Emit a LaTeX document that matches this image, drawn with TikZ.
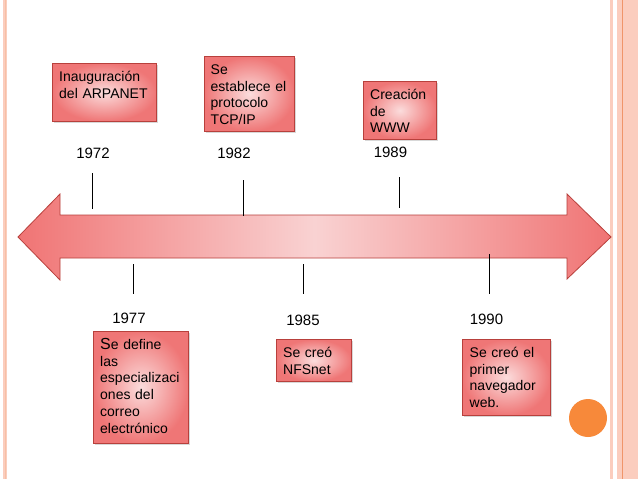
\documentclass[tikz,border=0pt]{standalone}
\usepackage{fontspec}
\setmainfont{Liberation Sans}
\usetikzlibrary{shadows}

\definecolor{boxred}{HTML}{EF7676}
\definecolor{boxpink}{HTML}{FBDCDC}
\definecolor{edgered}{HTML}{B8403C}
\definecolor{arrowred}{HTML}{F07474}
\definecolor{arrowpink}{HTML}{F9D2D2}
\definecolor{bandpink}{HTML}{FBCDBE}
\definecolor{bandline}{HTML}{F0956A}
\definecolor{dotorange}{HTML}{F7893A}

\tikzset{
	evbox/.style={draw=edgered, line width=0.8pt, inner color=boxpink, outer color=boxred, anchor=north west, inner sep=0pt,
		drop shadow={shadow xshift=1.2pt, shadow yshift=-1.2pt, opacity=0.3}},
	evtext/.style={anchor=north west, align=left, inner sep=0pt, text width=110pt, text height=11pt, font=\fontsize{14}{16.8}\selectfont},
	year/.style={anchor=base, inner sep=0pt, font=\fontsize{15}{18}\selectfont},
	tick/.style={black, line width=0.8pt}
}

\begin{document}
\begin{tikzpicture}[x=1pt, y=-1pt]
			\useasboundingbox[fill=white] (0,0) rectangle (638,479);
			\fill[bandpink] (3,0) rectangle (7,479);
			\draw[bandline!60, line width=0.6pt] (5,0) -- (5,479);
			\fill[bandpink] (610,0) rectangle (613,479);
			\fill[bandpink] (617,0) rectangle (638,479);
			\draw[bandline, line width=1pt] (622,0) -- (622,479);
			
			\draw[edgered, line width=0.8pt, left color=arrowred, right color=arrowred, middle color=arrowpink]
				(18,237) -- (60,194) -- (60,215) -- (567,215) -- (567,194) -- (611,237)
				-- (567,279) -- (567,258) -- (60,258) -- (60,280) -- cycle;
			
			\coordinate (t72a) at (92.5,173); \coordinate (t72b) at (92.5,209);
			\coordinate (t82a) at (243,180); \coordinate (t82b) at (243,216);
			\coordinate (t89a) at (399,177); \coordinate (t89b) at (399,208);
			\coordinate (t77a) at (133,264); \coordinate (t77b) at (133,294);
			\coordinate (t85a) at (303.5,264); \coordinate (t85b) at (303.5,294);
			\coordinate (t90a) at (489.5,254); \coordinate (t90b) at (489.5,294);
			\draw[tick] (t72a) -- (t72b);
			\draw[tick] (t82a) -- (t82b);
			\draw[tick] (t89a) -- (t89b);
			\draw[tick] (t77a) -- (t77b);
			\draw[tick] (t85a) -- (t85b);
			\draw[tick] (t90a) -- (t90b);
			
			\node[year] (y1972) at (93,158) {1972};
			\node[year] (y1982) at (234,158) {1982};
			\node[year] (y1989) at (390.5,157) {1989};
			\node[year] (y1977) at (129,323) {1977};
			\node[year] (y1985) at (303,325) {1985};
			\node[year] (y1990) at (486.5,324) {1990};
			
			\node[evbox, minimum width=104pt, minimum height=58pt] (arpa) at (52,63) {};
			\node[evbox, minimum width=90pt, minimum height=75pt] (tcp) at (204,56) {};
			\node[evbox, minimum width=73pt, minimum height=58pt] (www) at (363,81) {};
			\node[evbox, minimum width=95pt, minimum height=112pt] (correo) at (93,331) {};
			\node[evbox, minimum width=75pt, minimum height=42pt] (nfs) at (276,339) {};
			\node[evbox, minimum width=88pt, minimum height=76pt] (nav) at (462,339) {};
			
			\node[evtext] (arpatxt) at ([xshift=7pt, yshift=-7pt]arpa.north west) {Inauguración\\del ARPANET};
			\node[evtext] (tcptxt) at ([xshift=6.5pt, yshift=-7pt]tcp.north west) {Se\\establece el\\protocolo\\TCP/IP};
			\node[evtext] (wwwtxt) at ([xshift=7pt, yshift=-7pt]www.north west) {Creación\\de\\WWW};
			\node[evtext] (correotxt) at ([xshift=7pt, yshift=-7pt]correo.north west) {{\fontsize{16}{16.8}\selectfont S}e define\\las\\especializaci\\ones del\\correo\\electrónico};
			\node[evtext] (nfstxt) at ([xshift=7pt, yshift=-7pt]nfs.north west) {Se creó\\NFSnet};
			\node[evtext] (navtxt) at ([xshift=7.5pt, yshift=-7pt]nav.north west) {Se creó el\\primer\\navegador\\web.};
			
			\fill[dotorange] (588,418) circle (19);
			
\end{tikzpicture}
\end{document}
